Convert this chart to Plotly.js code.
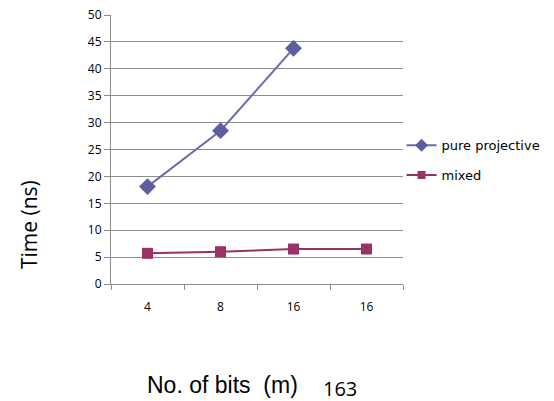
<!DOCTYPE html>
<html>
<head>
<meta charset="utf-8">
<script src="https://cdn.plot.ly/plotly-3.0.1.min.js"></script>
<style>html,body{margin:0;padding:0;background:#fff;}#chart{width:554px;height:401px;}</style>
</head>
<body>
<div id="chart"></div>
<script>
var categories = ["4", "8", "16", "16"];
var seriesNames = ["pure projective", "mixed"];
var pureProjective = [18.1, 28.5, 43.8, null];
var mixed = [5.7, 6.0, 6.5, 6.5];
var yTicks = [0, 5, 10, 15, 20, 25, 30, 35, 40, 45, 50];

var xIdx = categories.map(function (c, i) { return i; });
var font = "Open Sans, Noto Sans, DejaVu Sans, sans-serif";
var styles = [
  {line: "#6a6dab", marker: "#5d5e9f", symbol: "diamond", size: 13, lsize: 10},
  {line: "#963262", marker: "#993366", symbol: "square", size: 11, lsize: 8}
];
var seriesData = [pureProjective, mixed];

var traces = [];
seriesData.forEach(function (vals, i) {
  var s = styles[i];
  traces.push({
    x: xIdx, y: vals, name: seriesNames[i], mode: "lines+markers", showlegend: false,
    line: {color: s.line, width: 2},
    marker: {symbol: s.symbol, size: s.size, color: s.marker},
    connectgaps: false
  });
});
seriesData.forEach(function (vals, i) {
  var s = styles[i];
  traces.push({
    x: [null], y: [null], name: seriesNames[i], mode: "lines+markers",
    legendgroup: "g" + i,
    line: {color: s.line, width: 2},
    marker: {symbol: s.symbol, size: s.lsize, color: s.marker}
  });
});

var layout = {
  width: 554, height: 401,
  margin: {l: 111, r: 151, t: 15, b: 117, autoexpand: false},
  paper_bgcolor: "#fff", plot_bgcolor: "#fff",
  showlegend: true,
  legend: {x: 0.995, y: 0.46, xanchor: "left", yanchor: "middle",
           font: {family: "DejaVu Sans, sans-serif", size: 13, color: "#000"},
           traceorder: "grouped", tracegroupgap: 10,
           bgcolor: "rgba(0,0,0,0)"},
  xaxis: {
    range: [-0.5, 3.5], tickvals: xIdx, ticktext: categories, ticks: "",
    showgrid: false, zeroline: false, showline: true, linecolor: "#8c8c8c", linewidth: 1,
    tickfont: {family: font, size: 12, color: "#000"},
    ticklabelstandoff: 12,
    minor: {tick0: -0.5, dtick: 1, ticks: "outside", ticklen: 5, tickcolor: "#8c8c8c", showgrid: false},
    fixedrange: true
  },
  yaxis: {
    range: [0, 50], tickvals: yTicks, ticks: "outside", ticklen: 6, tickcolor: "#8c8c8c",
    showgrid: true, gridcolor: "#8c8c8c", gridwidth: 1, zeroline: false,
    showline: true, linecolor: "#8c8c8c", linewidth: 1,
    tickfont: {family: font, size: 12, color: "#000"},
    fixedrange: true
  },
  annotations: [
    {text: "Time (ns)", xref: "paper", yref: "paper", x: -0.28, y: 0.22, textangle: -90,
     showarrow: false, font: {family: font, size: 21, color: "#000"}, xanchor: "center", yanchor: "middle"},
    {text: "No. of bits  (m)", xref: "paper", yref: "paper", x: 0.115, y: -0.375,
     showarrow: false, font: {family: "Liberation Sans, Arial, sans-serif", size: 23, color: "#000"}, xanchor: "left", yanchor: "middle"},
    {text: "163", xref: "paper", yref: "paper", x: 0.72, y: -0.39,
     showarrow: false, font: {family: font, size: 20, color: "#000"}, xanchor: "left", yanchor: "middle"}
  ]
};

Plotly.newPlot("chart", traces, layout, {displayModeBar: false, staticPlot: true});
</script>
</body>
</html>
